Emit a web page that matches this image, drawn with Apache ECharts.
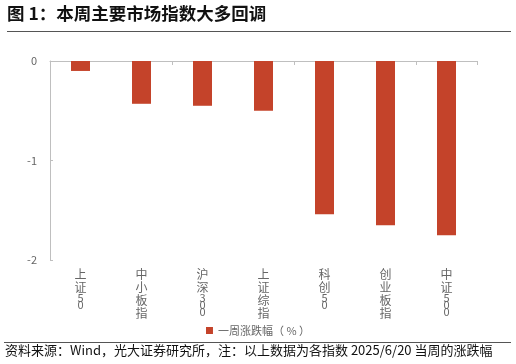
<!DOCTYPE html>
<html><head><meta charset="utf-8">
<script src="https://cdn.jsdelivr.net/npm/echarts@6/dist/echarts.min.js"></script>
<style>html,body{margin:0;padding:0;background:#fff}#c{width:516px;height:364px}</style>
</head><body><div id="c"></div>
<script>
const categories = ['上证50','中小板指','沪深300','上证综指','科创50','创业板指','中证500'];
const weeklyChange = [-0.10, -0.43, -0.45, -0.50, -1.54, -1.65, -1.75];
const yTicks = [-2, -1, 0];
const seriesName = '一周涨跌幅（ % ）';
const titleText = '图 1：本周主要市场指数大多回调';
const noteText = '资料来源：Wind，光大证券研究所，注：以上数据为各指数 2025/6/20 当周的涨跌幅';

const FONT = '"Noto Sans CJK SC", "Noto Sans", sans-serif';
function vert(s){
  return s.split('').map(ch => /[0-9]/.test(ch) ? '{d|'+ch+'}' : '{c|'+ch+'}').join('\n');
}
const chart = echarts.init(document.getElementById('c'));
chart.setOption({
  animation:false,
  backgroundColor:'#fff',
  textStyle:{fontFamily:FONT},
  grid:{left:50, right:39, top:61, bottom:104, containLabel:false},
  xAxis:[{
    type:'category', data:categories, position:'bottom',
    axisLine:{show:false, onZero:false}, axisTick:{show:false},
    axisLabel:{margin:8, interval:0, formatter:v=>vert(v),
      rich:{c:{fontSize:12, lineHeight:13, color:'#666', fontFamily:FONT},
            d:{fontSize:11, lineHeight:7, color:'#666', fontFamily:FONT}}}
  },{
    type:'category', data:categories, position:'top',
    axisLine:{show:true, onZero:false, lineStyle:{color:'#bfbfbf', width:1}},
    axisTick:{show:true, inside:true, length:4, lineStyle:{color:'#bfbfbf'}},
    axisLabel:{show:false}
  }],
  yAxis:{
    type:'value', min:yTicks[0], max:yTicks[yTicks.length-1], interval:1,
    axisLine:{show:true, lineStyle:{color:'#bfbfbf', width:1}},
    axisTick:{show:true, inside:true, length:3, lineStyle:{color:'#bfbfbf'}},
    splitLine:{show:false},
    axisLabel:{color:'#666', fontSize:11, margin:13, fontFamily:FONT}
  },
  legend:{
    data:[seriesName], bottom:23, left:'center',
    icon:'rect', itemWidth:7, itemHeight:7, itemGap:4,
    textStyle:{color:'#666', fontSize:11, fontFamily:FONT}
  },
  series:[{
    name:seriesName, type:'bar', data:weeklyChange, barWidth:19,
    itemStyle:{color:'#C4432A'}
  }],
  graphic:[
    {type:'text', left:7, top:5, style:{text:titleText, fontSize:17.5, fontWeight:'bold', fill:'#111', fontFamily:FONT}},
    {type:'line', shape:{x1:7, y1:31.5, x2:511, y2:31.5}, style:{stroke:'#555', lineWidth:1}},
    {type:'line', shape:{x1:4, y1:342.5, x2:511, y2:342.5}, style:{stroke:'#555', lineWidth:1}},
    {type:'text', left:5, top:344, style:{text:noteText, fontSize:13, fill:'#111', fontFamily:FONT}}
  ]
});
</script></body></html>
